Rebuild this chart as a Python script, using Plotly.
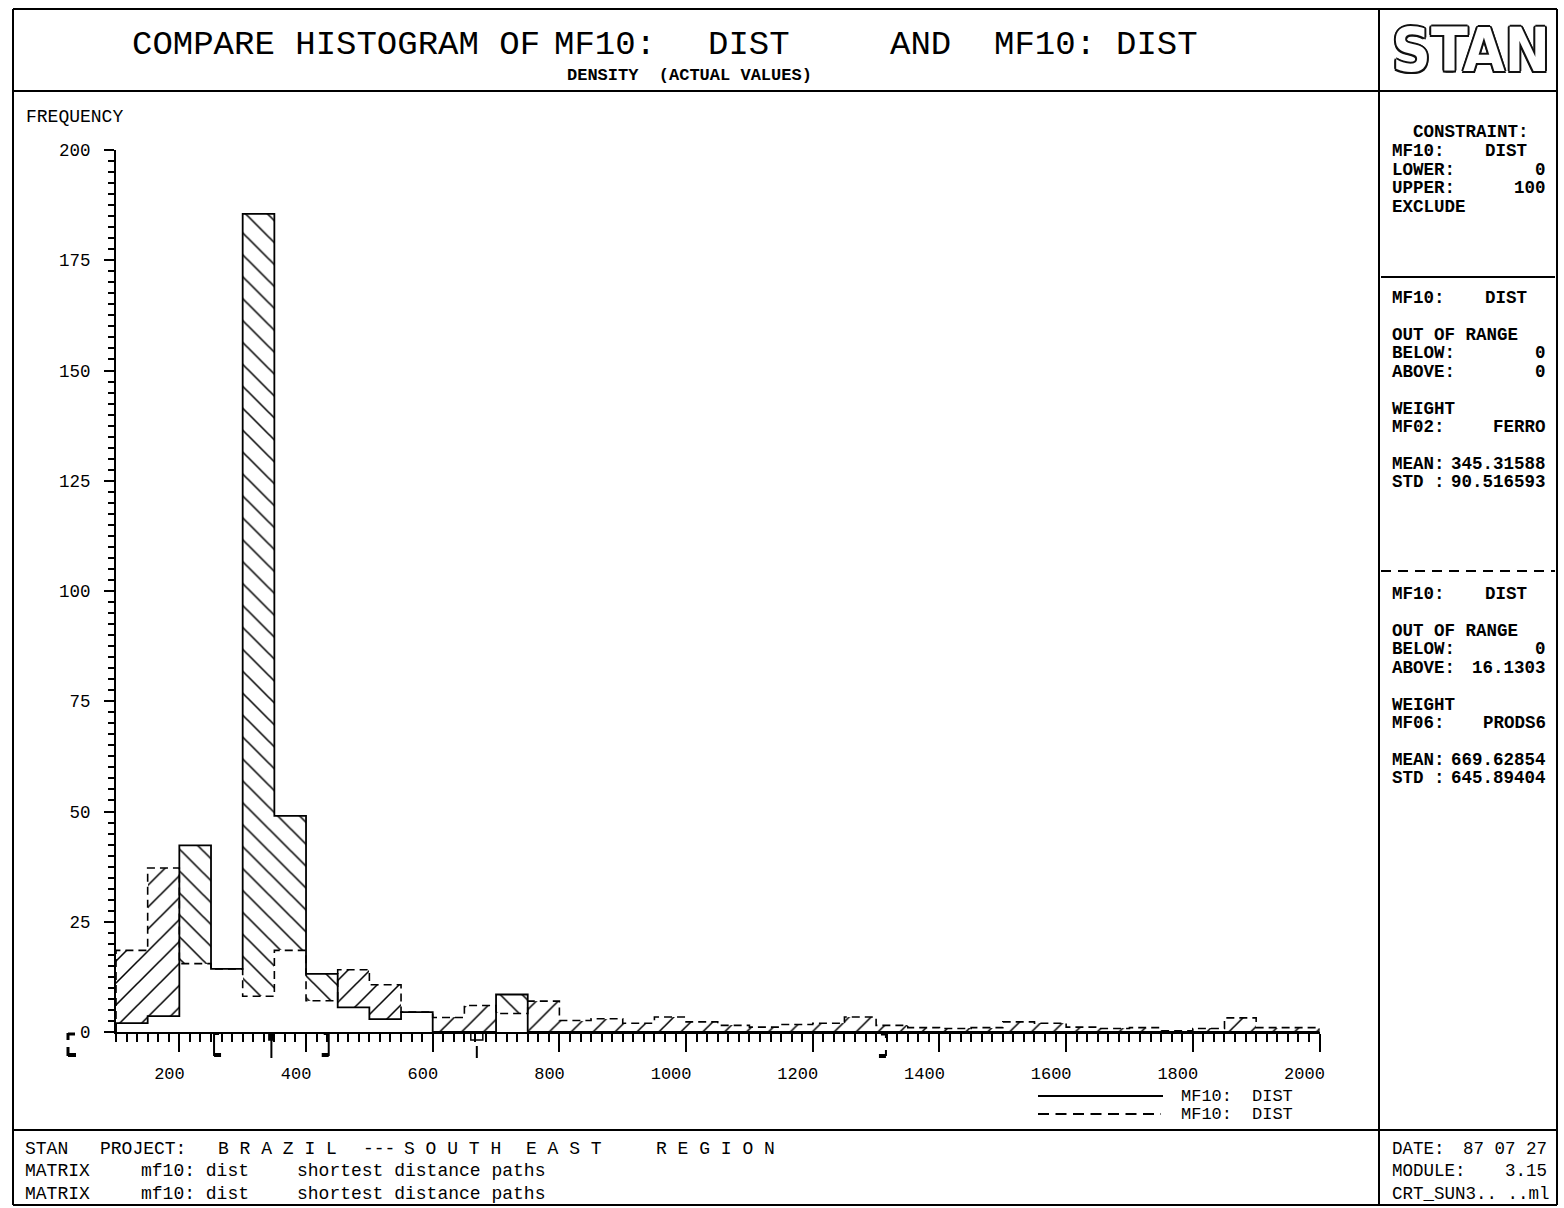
import plotly.graph_objects as go

W, H = 1564, 1208
MONO = "Liberation Mono"

# ---- data -------------------------------------------------------------
# class boundaries of the distance histogram (50 km classes, 100..2000)
bin_edges = list(range(100, 2001, 50))

# weighted frequency per class, series 1 (solid outline, weight MF02 FERRO)
freq_ferro = [2.0, 3.6, 42.3, 14.3, 185.5, 49.0, 13.2, 5.6, 2.9, 4.5,
              0.0, 0.0, 8.5, 0.0, 0.0, 0.0, 0.0, 0.0, 0.0, 0.0,
              0.0, 0.0, 0.0, 0.0, 0.0, 0.0, 0.0, 0.0, 0.0, 0.0,
              0.0, 0.0, 0.0, 0.0, 0.0, 0.0, 0.0, 0.0]

# weighted frequency per class, series 2 (dashed outline, weight MF06 PRODS6)
freq_prods6 = [18.5, 37.2, 15.5, 14.3, 8.1, 18.5, 7.1, 14.1, 10.7, 4.5,
               3.3, 6.0, 4.2, 7.0, 2.6, 3.0, 2.0, 3.4, 2.3, 1.5,
               1.1, 1.7, 2.0, 3.4, 1.5, 1.0, 0.8, 1.0, 2.3, 2.0,
               1.1, 0.8, 1.0, 0.3, 0.8, 3.2, 1.0, 1.0]

# summary statistics of both series
ferro_mean, ferro_std = 345.31588, 90.516593
prods6_mean, prods6_std = 669.62854, 645.89404

# axis ticks and labels
x_tick_values = [200, 400, 600, 800, 1000, 1200, 1400, 1600, 1800, 2000]
x_tick_labels = ["200", "400", "600", "800", "1000", "1200", "1400", "1600", "1800", "2000"]
x_minor_step = 200 / 12
y_ticks_major = 25
y_minor_step = 2.5

# ---- geometry helpers (page pixels -> paper fractions) -----------------
def px(x):
    return x / W


def py(y):
    return 1 - y / H


X_DOMAIN = [px(116), px(1319.5)]
Y_DOMAIN = [py(1032), py(150)]

fig = go.Figure()

# hatched band between the two histograms
n = len(bin_edges) - 1
centers = [(bin_edges[i] + bin_edges[i + 1]) / 2 for i in range(n)]
widths = [bin_edges[i + 1] - bin_edges[i] for i in range(n)]
band_base = [min(a, b) for a, b in zip(freq_ferro, freq_prods6)]
band_height = [abs(a - b) for a, b in zip(freq_ferro, freq_prods6)]
band_hatch = ["\\" if a > b else "/" for a, b in zip(freq_ferro, freq_prods6)]

fig.add_bar(
    x=centers, y=band_height, base=band_base, width=widths,
    marker=dict(color="rgba(0,0,0,0)", line=dict(width=0),
                pattern=dict(shape=band_hatch, size=15.5, solidity=0.1,
                             fgcolor="black", bgcolor="rgba(0,0,0,0)",
                             fillmode="replace")),
    hoverinfo="skip", showlegend=False,
)


def step_outline(vals):
    xs = [bin_edges[0]] + bin_edges[:-1] + [bin_edges[-1], bin_edges[-1]]
    ys = [0] + list(vals) + [vals[-1], 0]
    return xs, ys


sx, sy = step_outline(freq_ferro)
fig.add_scatter(x=sx, y=sy, mode="lines", line=dict(color="black", width=1.8, shape="hv"),
                showlegend=False, hoverinfo="skip")
dx, dy = step_outline(freq_prods6)
fig.add_scatter(x=dx, y=dy, mode="lines",
                line=dict(color="black", width=1.6, shape="hv", dash="8px,5px"),
                showlegend=False, hoverinfo="skip")

shapes = []
annots = []


def line(x0, y0, x1, y1, w=2, dash=None):
    d = dict(type="line", xref="paper", yref="paper", x0=px(x0), y0=py(y0),
             x1=px(x1), y1=py(y1), line=dict(color="black", width=w))
    if dash:
        d["line"]["dash"] = dash
    shapes.append(d)


def text(x, y, s, size=17, anchor="left", bold=False, family=MONO, color="black"):
    annots.append(dict(
        x=px(x), y=py(y), xref="paper", yref="paper", text=s.replace(" ", "\u00a0"),
        showarrow=False, xanchor=anchor, yanchor="middle", borderpad=0,
        font=dict(family=family, size=size, color=color,
                  weight="bold" if bold else "normal"),
    ))


# ---- page frame ---------------------------------------------------------
line(13, 9, 1557, 9)
line(13, 1205, 1557, 1205)
line(13, 9, 13, 1205)
line(1557, 9, 1557, 1205)
line(13, 91, 1557, 91)
line(13, 1130, 1557, 1130)
line(1379, 9, 1379, 1205)
line(1381, 277, 1555, 277)
line(1381, 571, 1555, 571, w=2, dash="10px,7px")

# ---- mean / std markers under the axis ---------------------------------
def mark(xval, x0, y0, x1, y1, w=2):
    shapes.append(dict(type="line", xref="x", yref="paper", xsizemode="pixel",
                       xanchor=xval, x0=x0, x1=x1, y0=py(y0), y1=py(y1),
                       line=dict(color="black", width=w)))


def mark_rect(xval, x0, y0, x1, y1, fill=True):
    shapes.append(dict(type="rect", xref="x", yref="paper", xsizemode="pixel",
                       xanchor=xval, x0=x0, x1=x1, y0=py(y0), y1=py(y1),
                       fillcolor="black" if fill else "rgba(0,0,0,0)",
                       line=dict(color="black", width=1.5)))


lo1, hi1 = ferro_mean - ferro_std, ferro_mean + ferro_std
mark(lo1, 0, 1034, 0, 1056)
mark(lo1, 0, 1034, 5, 1034)
mark(lo1, 0, 1055, 7, 1055, w=4)
mark_rect(ferro_mean, -2.5, 1033, 2.5, 1040)
mark(ferro_mean, 0, 1040, 0, 1058)
mark(hi1, 0, 1034, 0, 1056)
mark(hi1, -5, 1034, 0, 1034)
mark(hi1, -7, 1055, 0, 1055, w=4)

lo2, hi2 = prods6_mean - prods6_std, prods6_mean + prods6_std
mark_rect(prods6_mean, -6, 1033, 6, 1040, fill=False)
mark(prods6_mean, 0, 1046, 0, 1058)
mark(hi2, 0, 1033, 0, 1038)
mark(hi2, -5, 1034, 0, 1034, w=3)
mark(hi2, 0, 1050, 0, 1056)
mark(hi2, -7, 1056, 0, 1056, w=4)
if lo2 < bin_edges[0]:
    # below the axis range: the bracket sits left of the axis origin
    line(68, 1034, 75, 1034, w=3)
    line(68, 1033, 68, 1040, w=3)
    line(68, 1047, 68, 1056, w=3)
    line(68, 1055, 76, 1055, w=4)

# ---- titles ---------------------------------------------------------------
T = 34
text(131, 45, "COMPARE HISTOGRAM OF", T)
text(553, 45, "MF10:", T)
text(707, 45, "DIST", T)
text(889, 45, "AND", T)
text(993, 45, "MF10:", T)
text(1115, 45, "DIST", T)
text(566, 76, "DENSITY  (ACTUAL VALUES)", 17, bold=True)
text(25, 117, "FREQUENCY", 18)

# outlined logo lettering
annots.append(dict(
    x=px(1471), y=py(50), xref="paper", yref="paper", text="STAN",
    showarrow=False, xanchor="center", yanchor="middle",
    font=dict(family="DejaVu Sans Condensed, DejaVu Sans", size=60,
              color="white", weight="bold",
              shadow="2px 0 0 #111, -2px 0 0 #111, 0 2px 0 #111, 0 -2px 0 #111, "
                     "1.5px 1.5px 0 #111, -1.5px -1.5px 0 #111, 1.5px -1.5px 0 #111, -1.5px 1.5px 0 #111"),
))

# ---- right panel ----------------------------------------------------------
P = 17.5
text(1412, 132, "CONSTRAINT:", P, bold=True)
text(1391, 151, "MF10:", P, bold=True); text(1528, 151, "DIST", P, "right", True)
text(1391, 170, "LOWER:", P, bold=True); text(1547, 170, "0", P, "right", True)
text(1391, 188, "UPPER:", P, bold=True); text(1547, 188, "100", P, "right", True)
text(1391, 207, "EXCLUDE", P, bold=True)

panels = [
    (298, "DIST", "0", "0", "MF02:", "FERRO", ferro_mean, ferro_std),
    (594, "DIST", "0", "16.1303", "MF06:", "PRODS6", prods6_mean, prods6_std),
]
for y0, var, below, above, wkey, wname, mean, std in panels:
    text(1391, y0, "MF10:", P, bold=True); text(1528, y0, var, P, "right", True)
    text(1391, y0 + 37, "OUT OF RANGE", P, bold=True)
    text(1391, y0 + 55, "BELOW:", P, bold=True); text(1547, y0 + 55, below, P, "right", True)
    text(1391, y0 + 74, "ABOVE:", P, bold=True); text(1547, y0 + 74, above, P, "right", True)
    text(1391, y0 + 111, "WEIGHT", P, bold=True)
    text(1391, y0 + 129, wkey, P, bold=True); text(1547, y0 + 129, wname, P, "right", True)
    text(1391, y0 + 166, "MEAN:", P, bold=True); text(1547, y0 + 166, f"{mean:.5f}", P, "right", True)
    text(1391, y0 + 184, "STD :", P, bold=True); text(1547, y0 + 184, f"{std:.{8 - len(str(int(std)))}f}", P, "right", True)

# ---- legend -----------------------------------------------------------------
line(1038, 1096, 1163, 1096, w=1.8)
line(1038, 1114, 1161, 1114, w=1.8, dash="11px,6.5px")
text(1180, 1096, "MF10:", 17); text(1294, 1096, "DIST", 17, "right")
text(1180, 1114, "MF10:", 17); text(1294, 1114, "DIST", 17, "right")

# ---- footer -------------------------------------------------------------------
F = 18
text(24, 1149, "STAN", F)
text(99, 1149, "PROJECT:", F)
text(217, 1149, "B R A Z I L", F)
text(362, 1149, "---", F)
text(403, 1149, "S O U T H", F)
text(525, 1149, "E A S T", F)
text(655, 1149, "R E G I O N", F)
for yy in (1171, 1194):
    text(24, yy, "MATRIX", F)
    text(140, yy, "mf10: dist", F)
    text(296, yy, "shortest distance paths", F)
text(1391, 1149, "DATE:", 17.5); text(1548, 1149, "87 07 27", 17.5, "right")
text(1391, 1171, "MODULE:", 17.5); text(1548, 1171, "3.15", 17.5, "right")
text(1391, 1194, "CRT_SUN3.. ..ml", 17.5)

# x labels are right-aligned just past their tick, so pad them to a common width
x_tick_text = [lab.rjust(4).replace(" ", "\u00a0") for lab in x_tick_labels]

fig.update_layout(
    width=W, height=H, margin=dict(l=0, r=0, t=0, b=0, pad=0, autoexpand=False),
    paper_bgcolor="white", plot_bgcolor="white",
    bargap=0, barmode="overlay", showlegend=False,
    shapes=shapes, annotations=annots,
    xaxis=dict(domain=X_DOMAIN, range=[bin_edges[0], bin_edges[-1]],
               tickmode="array", tickvals=x_tick_values, ticktext=x_tick_text,
               ticks="outside", ticklen=18, tickwidth=2, tickcolor="black",
               showline=True, linewidth=2, linecolor="black",
               showgrid=False, zeroline=False, automargin=False,
               tickfont=dict(family=MONO, size=17, color="black"),
               ticklabelstandoff=7, ticklabelshift=-15,
               minor=dict(tick0=0, dtick=x_minor_step, ticks="outside",
                          ticklen=8, tickwidth=1.5, tickcolor="black", showgrid=False),
               fixedrange=True),
    yaxis=dict(domain=Y_DOMAIN, range=[0, 200],
               tickmode="linear", tick0=0, dtick=y_ticks_major,
               ticks="outside", ticklen=10, tickwidth=2, tickcolor="black",
               showline=True, linewidth=2, linecolor="black",
               showgrid=False, zeroline=False, automargin=False,
               tickfont=dict(family=MONO, size=17.5, color="black"),
               ticklabelstandoff=10,
               minor=dict(tick0=0, dtick=y_minor_step, ticks="outside",
                          ticklen=6, tickwidth=1.5, tickcolor="black", showgrid=False),
               fixedrange=True),
)

# page without body margin or scrollbars so the figure fills the window exactly
page_css = ("document.body.style.margin='0';document.body.style.padding='0';"
            "document.body.style.overflow='hidden';"
            "document.documentElement.style.overflow='hidden';")
fig.write_html("out.html", config={"displayModeBar": False}, post_script=page_css)
